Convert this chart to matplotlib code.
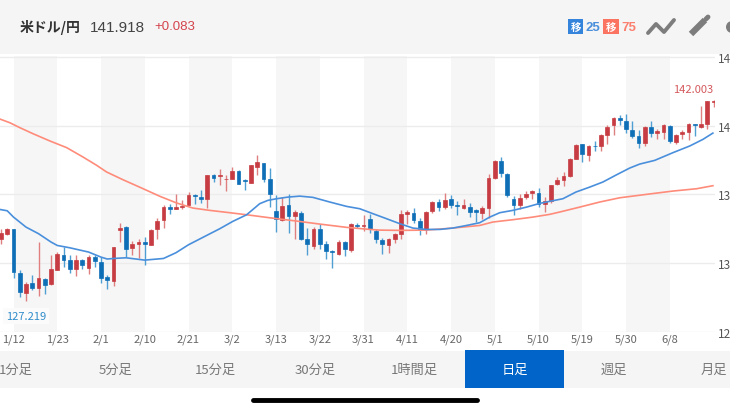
import matplotlib
matplotlib.use("Agg")
import matplotlib.pyplot as plt
import numpy as np
from matplotlib.patches import Rectangle, Circle

plt.rcParams["font.family"] = ["Noto Sans CJK JP", "DejaVu Sans"]

# daily candles. candle 0 is the one under the 1/12 label
first_candle = -2
opens = [131.77, 132.14, 132.45, 129.24, 127.83, 128.53, 128.17, 128.85, 128.44, 129.51,
         130.60, 130.19, 129.58, 130.21, 129.63, 130.41, 130.07, 128.95, 128.70, 132.38,
         132.62, 131.11, 131.41, 131.53, 131.33, 132.45, 133.13, 134.08, 133.96, 134.06,
         134.25, 134.98, 134.81, 134.69, 136.39, 136.34, 136.10, 136.15, 136.71, 136.03,
         135.86, 137.00, 137.29, 136.10, 133.77, 133.11, 134.25, 133.43, 133.67, 131.77,
         131.24, 132.45, 131.38, 130.85, 130.63, 131.53, 130.92, 132.74, 132.67, 133.23,
         132.35, 131.70, 131.28, 131.72, 132.09, 133.57, 133.62, 133.04, 132.50, 133.77,
         134.45, 134.08, 134.67, 134.20, 134.03, 134.11, 133.84, 133.67, 133.98, 136.20,
         137.41, 136.52, 134.67, 134.20, 134.84, 135.08, 135.13, 134.33, 134.50, 135.74,
         136.08, 136.35, 137.61, 138.66, 137.85, 138.56, 138.54, 139.36, 140.04, 140.55,
         140.36, 139.73, 139.24, 138.78, 139.92, 139.51, 139.56, 140.00, 138.83, 139.44,
         139.56, 140.12, 139.92, 140.17, 141.77]
highs = [132.45, 132.55, 132.50, 129.46, 128.61, 129.14, 131.53, 128.90, 130.60, 130.80,
         131.16, 130.60, 130.60, 130.31, 130.55, 130.55, 130.43, 129.14, 131.19, 132.91,
         132.67, 131.60, 131.77, 131.89, 132.45, 133.28, 134.20, 134.33, 135.05, 134.57,
         135.18, 135.03, 135.30, 136.44, 136.52, 136.88, 136.44, 137.00, 136.76, 136.15,
         137.17, 137.85, 137.32, 136.93, 134.98, 134.81, 135.06, 133.84, 133.77, 132.55,
         132.62, 132.86, 131.58, 130.92, 131.70, 131.58, 132.89, 132.94, 133.52, 133.60,
         132.45, 131.82, 131.84, 132.21, 133.84, 133.84, 134.01, 133.28, 133.77, 134.52,
         134.64, 135.10, 134.93, 134.50, 134.69, 134.40, 133.96, 134.13, 136.52, 137.49,
         137.73, 136.56, 134.88, 135.06, 135.23, 135.35, 135.47, 134.81, 135.71, 136.27,
         136.64, 137.66, 138.68, 138.71, 138.63, 138.88, 139.41, 140.04, 140.65, 140.82,
         140.85, 140.34, 139.68, 140.00, 140.36, 139.80, 140.17, 140.09, 139.39, 139.73,
         140.21, 140.17, 141.43, 141.82, 141.92]
lows = [131.41, 132.06, 128.90, 127.51, 127.22, 128.00, 127.59, 127.76, 128.36, 129.46,
        129.70, 129.29, 129.05, 129.53, 129.22, 129.70, 128.53, 128.12, 128.34, 131.53,
        130.43, 130.60, 130.36, 129.82, 131.28, 131.77, 132.55, 133.60, 133.91, 133.96,
        134.20, 134.33, 134.40, 134.03, 135.91, 135.71, 135.23, 136.10, 135.74, 135.35,
        135.81, 136.44, 135.91, 134.08, 132.26, 133.04, 132.21, 131.72, 131.67, 130.55,
        131.04, 131.00, 130.31, 129.63, 130.55, 130.51, 130.80, 132.55, 132.31, 132.21,
        131.48, 130.63, 130.75, 131.48, 131.77, 132.87, 132.89, 132.01, 132.14, 133.67,
        133.81, 133.91, 134.01, 133.52, 133.91, 133.33, 132.99, 133.23, 133.28, 136.15,
        136.27, 134.81, 133.52, 133.91, 134.64, 134.69, 134.08, 133.72, 134.40, 135.66,
        135.62, 136.27, 137.56, 137.37, 137.42, 138.20, 138.20, 138.71, 139.36, 140.04,
        139.51, 139.12, 138.39, 138.54, 139.19, 139.02, 139.07, 138.78, 138.71, 139.02,
        138.95, 139.24, 139.85, 139.80, 141.38]
closes = [132.21, 132.45, 129.34, 127.88, 128.49, 128.17, 128.90, 128.41, 129.58, 130.65,
          130.19, 129.58, 130.21, 129.87, 130.41, 130.12, 128.90, 128.73, 131.14, 132.57,
          131.04, 131.41, 131.53, 131.41, 132.38, 133.06, 134.06, 133.91, 134.11, 134.15,
          134.98, 134.89, 134.69, 136.44, 136.20, 136.39, 136.15, 136.69, 135.79, 135.98,
          137.12, 137.37, 136.10, 135.06, 133.23, 134.16, 133.43, 133.72, 131.77, 131.36,
          132.50, 131.41, 130.85, 130.77, 131.53, 130.99, 132.84, 132.67, 132.79, 132.45,
          131.72, 131.38, 131.77, 132.11, 133.55, 133.69, 133.16, 132.50, 133.72, 134.45,
          134.06, 134.62, 134.25, 134.13, 134.23, 133.69, 133.72, 133.98, 136.22, 137.44,
          136.54, 134.93, 134.20, 134.76, 135.06, 135.23, 134.28, 134.50, 135.66, 136.03,
          136.35, 137.61, 138.63, 137.95, 138.54, 138.51, 139.36, 139.92, 140.58, 140.41,
          139.75, 139.27, 138.78, 139.92, 139.51, 139.61, 140.04, 138.88, 139.31, 139.56,
          140.17, 140.04, 140.17, 141.80, 141.82]

# moving averages, read at points along each line
ma25_x = [-2.2, -1, 0, 2, 4, 6, 7, 9, 12, 14, 15, 16, 18, 21, 24, 26, 28, 30.9, 33, 35.1,
          37.3, 39.4, 40.7, 42.1, 43.9, 45.8, 47.9, 50.6, 53.3, 55.4, 57.5, 59.7, 61.8, 63.9,
          66, 68.2, 70.3, 72.5, 74.6, 76.2, 77.8, 79.9, 82.1, 84.2, 85.8, 87.9, 90, 92.2,
          94.3, 96.5, 98.6, 100.2, 102.6, 105.5, 108.2, 110.3, 111.9]
ma25_y = [133.91, 133.81, 133.35, 132.62, 132.14, 131.53, 131.28, 131.11, 130.80, 130.43,
          130.29, 130.33, 130.38, 130.21, 130.33, 130.75, 131.33, 132.01, 132.50, 133.04,
          133.52, 134.33, 134.57, 134.69, 134.81, 134.88, 134.79, 134.45, 134.13, 133.96,
          133.60, 133.23, 132.87, 132.55, 132.45, 132.45, 132.55, 132.74, 132.94, 133.35,
          133.67, 133.84, 134.08, 134.35, 134.50, 134.69, 135.18, 135.54, 135.91, 136.44,
          136.93, 137.22, 137.49, 138.05, 138.54, 139.02, 139.48]
ma75_x = [-2.2, -0.6, 1, 3.1, 5.8, 8.5, 11.1, 13.3, 14.9, 17.5, 20.7, 23.4, 26.1, 28.7, 31.4,
          34.6, 37.3, 41, 45.3, 49, 53.3, 57, 58.6, 61.8, 66, 70.3, 74.6, 76.7, 79.9, 83.1,
          85.8, 87.4, 90.6, 93.8, 97, 101.3, 105.5, 109.3, 111.9]
ma75_y = [140.51, 140.24, 139.88, 139.44, 138.91, 138.42, 137.74, 137.13, 136.64, 136.08,
          135.43, 134.87, 134.38, 134.01, 133.84, 133.67, 133.52, 133.30, 133.06, 132.84,
          132.60, 132.45, 132.40, 132.38, 132.40, 132.55, 132.74, 132.99, 133.16, 133.35,
          133.55, 133.72, 134.08, 134.45, 134.76, 135.01, 135.25, 135.42, 135.64]

date_labels = ["1/12", "1/23", "2/1", "2/10", "2/21", "3/2", "3/13", "3/22",
               "3/31", "4/11", "4/20", "5/1", "5/10", "5/19", "5/30", "6/8"]
price_ticks = [125, 130, 135, 140, 145]
price_labels = ["12", "13", "13", "14", "14"]  # cut off by the screen edge in the screenshot
tab_labels = ["1分足", "5分足", "15分足", "30分足", "1時間足", "日足", "週足", "月足"]

RED = "#c63c42"
BLUE = "#0f6fb6"
RED_WICK = "#e07f80"
BLUE_WICK = "#4f9fd3"
W, H = 730, 410

fig = plt.figure(figsize=(W / 100, H / 100), dpi=100, facecolor="white")

ax = fig.add_axes([0, (H - 332.5) / H, 715 / W, 275.4 / H])
ax.set_xlim(-13.5 / 6.25, (715 - 13.5) / 6.25)
ax.set_ylim(125, 145.1)

opens, highs, lows, closes = map(np.array, (opens, highs, lows, closes))
idx = first_candle + np.arange(len(opens))
up = closes >= opens

date_ticks = np.arange(len(date_labels)) * 7
for start in date_ticks[::2]:
    ax.axvspan(start, start + 7, color="#f6f6f6", lw=0, zorder=0)
ax.set_yticks(price_ticks)
ax.set_yticklabels(price_labels)
ax.set_xticks(date_ticks)
ax.set_xticklabels(date_labels)
ax.grid(axis="y", color="#ececec", lw=1, zorder=1)
ax.tick_params(axis="x", length=0, pad=1.5, labelsize=8, labelcolor="#666666")
ax.tick_params(axis="y", length=0, pad=2, labelsize=8.5, labelcolor="#555555",
               right=True, labelright=True, left=False, labelleft=False)
for spine in ax.spines.values():
    spine.set_visible(False)

ax.vlines(idx[up], lows[up], highs[up], color=RED_WICK, lw=1, zorder=2)
ax.vlines(idx[~up], lows[~up], highs[~up], color=BLUE_WICK, lw=1, zorder=2)
ax.bar(idx[up], (closes - opens)[up], bottom=opens[up], width=0.62,
       color=RED, edgecolor=RED, lw=0.5, zorder=3)
ax.bar(idx[~up], (opens - closes)[~up], bottom=closes[~up], width=0.62,
       color=BLUE, edgecolor=BLUE, lw=0.5, zorder=3)

ax.plot(ma75_x, ma75_y, color="#ff8b7a", lw=1.2, zorder=4)
ax.plot(ma25_x, ma25_y, color="#4a8fdc", lw=1.2, zorder=4)

ax.annotate("142.003", (112, 141.92), xytext=(0, 4), textcoords="offset points",
            ha="right", va="bottom", fontsize=8, color="#d4595c")
ax.annotate("127.219", (2, 127.22), xytext=(0, -7), textcoords="offset points",
            ha="center", va="top", fontsize=8, color="#2f8ccb",
            bbox=dict(fc="#fbfbfb", ec="none", pad=2), zorder=5)

# app chrome around the chart, in screen pixels
ui = fig.add_axes([0, 0, 1, 1], zorder=10)
ui.set_xlim(0, W)
ui.set_ylim(H, 0)
ui.axis("off")
ui.patch.set_alpha(0)

ui.add_patch(Rectangle((0, 0), W, 55, color="#f5f5f5", lw=0))
ui.text(20, 27.5, "米ドル/円", fontsize=10, fontweight="bold", color="#333333", va="center")
ui.text(90, 27.5, "141.918", fontsize=11, color="#444444", va="center",
        family=["Liberation Sans"])
ui.text(154, 27, "+0.083", fontsize=9.5, color="#d4444c", va="center", family=["Liberation Sans"])

ui.add_patch(Rectangle((568, 20), 15, 15, color="#3584dc", lw=0))
ui.text(575.5, 27.5, "移", fontsize=7.5, fontweight="bold", color="white", ha="center", va="center")
ui.text(585, 28, "25", fontsize=9.5, fontweight="bold", color="#4a8fdc", va="center",
        family=["Liberation Sans"])
ui.add_patch(Rectangle((603, 20), 16, 15, color="#fb7361", lw=0))
ui.text(611, 27.5, "移", fontsize=7.5, fontweight="bold", color="white", ha="center", va="center")
ui.text(621, 28, "75", fontsize=9.5, fontweight="bold", color="#fb7f6e", va="center",
        family=["Liberation Sans"])

ui.plot([648, 656, 664, 674], [34, 25, 33, 21], color="#7d7d7d", lw=2.8, solid_capstyle="round")
ui.plot([691, 705], [35, 21], color="#7d7d7d", lw=4.5, solid_capstyle="butt")
ui.plot([706, 708], [20, 18], color="#7d7d7d", lw=3.5, solid_capstyle="round")
ui.add_patch(Circle((732, 28), 6, color="#7d7d7d", lw=0))

ui.add_patch(Rectangle((0, 352), W, 37, color="#f5f5f5", lw=0))
ui.add_patch(Rectangle((465, 351), 99, 38, color="#0064c8", lw=0))
for i, label in enumerate(tab_labels):
    selected = label == "日足"
    ui.text(16 + 99.7 * i, 370.5, label, fontsize=9.5, ha="center", va="center",
            color="white" if selected else "#777777")

ui.plot([253, 477], [400.5, 400.5], color="black", lw=3.5, solid_capstyle="round")

fig.savefig("out.png", dpi=100, facecolor="white")
